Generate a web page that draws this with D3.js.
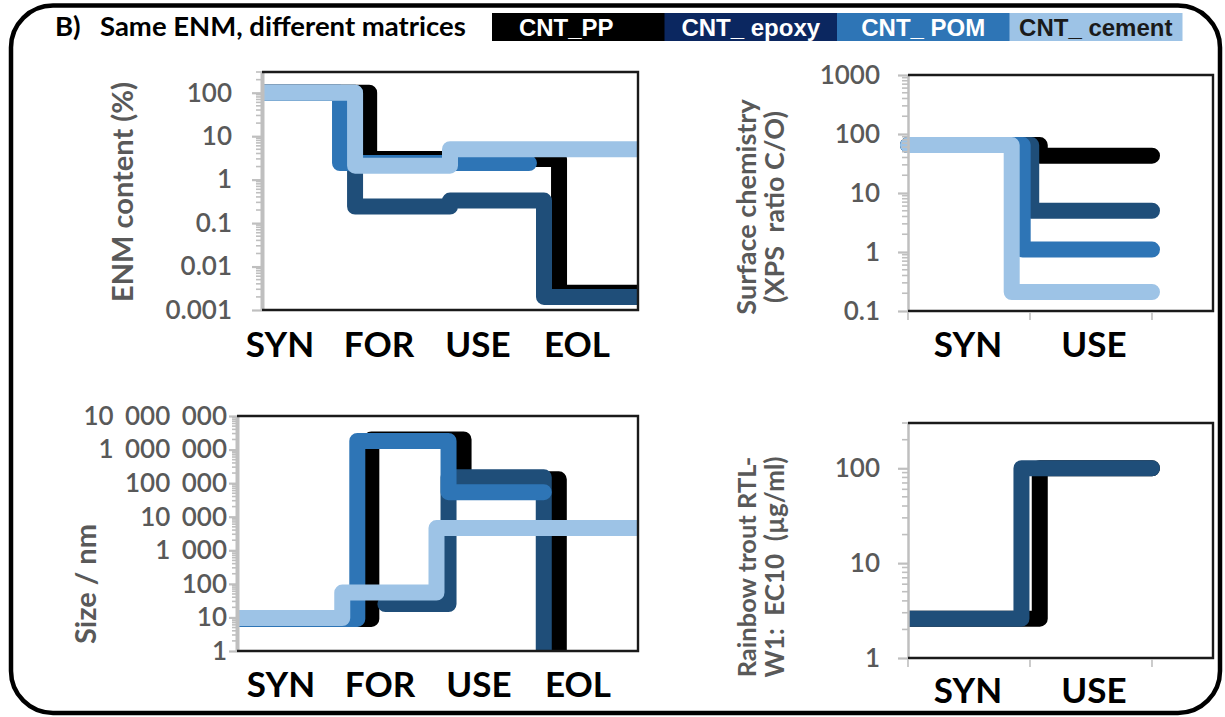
<!DOCTYPE html>
<html>
<head>
<meta charset="utf-8">
<script src="https://cdn.jsdelivr.net/npm/d3@7"></script>
<style>
  body { margin: 0; background: #fff; }
  svg { display: block; }
  text { font-family: Lato, "Open Sans", sans-serif; }
</style>
</head>
<body>
<svg id="fig" width="1225" height="717"></svg>
<script>
// ---- data ---------------------------------------------------------------
const stages4 = ["SYN", "FOR", "USE", "EOL"];
const stages2 = ["SYN", "USE"];
const seriesKeys = ["pp", "epoxy", "pom", "cement"];
const seriesNames = ["CNT_PP", "CNT_ epoxy", "CNT_ POM", "CNT_ cement"];
const lineColors = ["#000000", "#1F4E79", "#2E75B6", "#9DC3E6"];
const legendFills = ["#000000", "#0B2760", "#2E75B6", "#9DC3E6"];
const legendInk = ["#ffffff", "#ffffff", "#ffffff", "#1a1a1a"];

// Step series: position along the life cycle (stage units) where each level starts, and the level.
// ENM content (%)
const contentX = { pp: [0, 1.14, 3.16, 4.3], epoxy: [0, 0.99, 2.0, 3.0, 4.3], pom: [0, 0.83, 2.84], cement: [0, 0.99, 2.0, 4.3] };
const contentV = { pp: [100, 3, 0.0025, 0.0025], epoxy: [100, 0.24, 0.33, 0.002, 0.002], pom: [100, 2.4, 2.4], cement: [100, 2.1, 5, 5] };
const contentTicks = [0.001, 0.01, 0.1, 1, 10, 100];

// Surface chemistry (XPS ratio C/O)
const surfaceX = { pp: [0, 1.08, 2], epoxy: [0, 1.01, 2], pom: [0, 0.94, 2], cement: [0, 0.85, 2] };
const surfaceV = { pp: [65, 43, 43], epoxy: [65, 5, 5], pom: [65, 1.1, 1.1], cement: [65, 0.21, 0.21] };
const surfaceTicks = [0.1, 1, 10, 100, 1000];

// Size / nm
const sizeX = { pp: [0, 1.34, 2.26, 3.21, 4.3], epoxy: [1.48, 2.11, 3.06, 4.3], pom: [0, 1.2, 2.11, 3.06], cement: [0, 1.05, 1.99, 4.3] };
const sizeV = { pp: [9, 2e6, 1.3e5, 0.1, 0.1], epoxy: [25, 1.5e5, 0.1, 0.1], pom: [9, 1.8e6, 5.4e4, 5.4e4], cement: [9.6, 55, 4600, 4600] };
const sizeTicks = [1, 10, 100, 1e3, 1e4, 1e5, 1e6, 1e7];

// Rainbow trout RTL-W1 EC10 (µg/ml)
const ec10X = { pp: [0, 1.08, 2], epoxy: [0, 0.93, 2] };
const ec10V = { pp: [2.6, 100, 100], epoxy: [2.6, 100, 100] };
const ec10Ticks = [1, 10, 100];

// ---- drawing ------------------------------------------------------------
const svg = d3.select("#fig");
const grey = "#595959";
const axisGrey = "#BFBFBF";
const spaced = d3.formatLocale({ decimal: ".", thousands: " ", grouping: [3], currency: ["", ""] }).format(",");

// outer rounded frame
svg.append("rect")
  .attr("x", 11).attr("y", 5.5).attr("width", 1209).attr("height", 707.5)
  .attr("rx", 42).attr("ry", 42)
  .attr("fill", "none").attr("stroke", "#000").attr("stroke-width", 4.5);

// title
const title = svg.append("text").attr("x", 55).attr("y", 36)
  .attr("font-size", 27.5).attr("font-weight", 700).attr("fill", "#000");
title.append("tspan").text("B)");
title.append("tspan").attr("x", 100).text("Same ENM, different matrices");

// legend strip
const legX = d3.scaleBand().domain(seriesNames).range([492, 1182]).paddingInner(0);
const leg = svg.append("g");
leg.selectAll("rect").data(seriesNames).join("rect")
  .attr("x", d => legX(d)).attr("y", 13)
  .attr("width", legX.bandwidth() + 0.5).attr("height", 28)
  .attr("fill", (d, i) => legendFills[i]);
leg.selectAll("text").data(seriesNames).join("text")
  .attr("x", d => legX(d) + legX.bandwidth() / 2 - (d === "CNT_PP" ? 12 : 0))
  .attr("y", 36)
  .attr("text-anchor", "middle")
  .style("font-family", "'Liberation Sans Narrow', 'Arial Narrow', sans-serif")
  .style("white-space", "pre")
  .attr("font-size", 24).attr("font-weight", 700)
  .attr("fill", (d, i) => legendInk[i])
  .text(d => d);

function logMinor(domain) {
  const out = [];
  const lo = Math.floor(Math.log10(domain[0])), hi = Math.ceil(Math.log10(domain[1]));
  for (let e = lo; e <= hi; e++) {
    for (let m = 2; m <= 9; m++) {
      const v = m * Math.pow(10, e);
      if (v > domain[0] * 1.0001 && v <= domain[1] * 1.0001) out.push(v);
    }
  }
  return out;
}

function panel(cfg) {
  const g = svg.append("g");
  const x = d3.scaleLinear().domain(cfg.xDomain).range([cfg.left, cfg.right]);
  const y = d3.scaleLog().domain(cfg.yDomain).range([cfg.bottom, cfg.top]);
  const id = "clip" + cfg.name;

  g.append("clipPath").attr("id", id).append("rect")
    .attr("x", cfg.left - cfg.clipPad).attr("y", cfg.top)
    .attr("width", cfg.right - cfg.left + cfg.clipPad).attr("height", cfg.bottom - cfg.top);

  // step lines, drawn in legend order so lighter matrices sit on top
  const line = d3.line().x(d => x(d[0])).y(d => y(d[1])).curve(d3.curveStepAfter);
  const lines = g.append("g").attr("clip-path", `url(#${id})`);
  seriesKeys.forEach((k, i) => {
    if (!cfg.xs[k]) return;
    const pts = cfg.xs[k].map((xv, j) => [xv, cfg.vs[k][j]]);
    lines.append("path").attr("d", line(pts))
      .attr("fill", "none").attr("stroke", lineColors[i])
      .attr("stroke-width", 16).attr("stroke-linejoin", "round").attr("stroke-linecap", "round");
  });

  // y axis: gray with minor log ticks
  const minor = logMinor(cfg.yDomain);
  g.append("g").selectAll("line").data(minor).join("line")
    .attr("x1", cfg.left - cfg.minorLen).attr("x2", cfg.left)
    .attr("y1", d => y(d)).attr("y2", d => y(d))
    .attr("stroke", axisGrey).attr("stroke-width", 1.6);
  const yAxis = d3.axisLeft(y).tickValues(cfg.ticks).tickFormat(cfg.fmt)
    .tickSizeInner(cfg.majorLen).tickSizeOuter(0).tickPadding(cfg.labelGap);
  const ya = g.append("g").attr("transform", `translate(${cfg.left},0)`).call(yAxis);
  ya.select(".domain").attr("stroke", axisGrey).attr("stroke-width", cfg.axisW);
  ya.selectAll(".tick line").attr("stroke", axisGrey).attr("stroke-width", 2.2);
  ya.selectAll(".tick text").attr("fill", grey).attr("font-size", 26).attr("font-weight", 600)
    .style("font-family", "Lato, 'Open Sans', sans-serif").style("white-space", "pre")
    .style("word-spacing", cfg.wordGap || "0px");

  // plot frame (top, right, bottom)
  g.append("path")
    .attr("d", `M${cfg.left},${cfg.top}H${cfg.right}V${cfg.bottom}H${cfg.left}`)
    .attr("fill", "none").attr("stroke", "#1a1a1a").attr("stroke-width", 2.4);

  // category ticks under the two-stage panels
  if (cfg.catTicks) {
    g.append("g").selectAll("line").data(cfg.catTicks).join("line")
      .attr("x1", d => x(d)).attr("x2", d => x(d))
      .attr("y1", cfg.bottom + 1).attr("y2", cfg.bottom + 9)
      .attr("stroke", axisGrey).attr("stroke-width", 1.6);
  }

  // stage labels
  const cat = d3.scalePoint().domain(cfg.stages).range(cfg.catRange);
  g.append("g").selectAll("text").data(cfg.stages).join("text")
    .attr("x", d => cat(d)).attr("y", cfg.catY)
    .attr("text-anchor", "middle").attr("font-size", 35).attr("font-weight", 700)
    .attr("fill", "#000").text(d => d);

  // y title (one or two lines)
  cfg.yTitle.forEach((t, i) => {
    g.append("text")
      .attr("transform", `translate(${cfg.yTitleX[i]},${cfg.yTitleY}) rotate(-90)`)
      .attr("text-anchor", "middle").attr("dy", "0.35em")
      .attr("font-size", cfg.yTitleSize[i]).attr("font-weight", 700).attr("fill", grey)
      .style("white-space", "pre")
      .text(t);
  });
}

const plainFmt = d => String(d);

panel({
  name: "content", left: 262, right: 638, top: 72, bottom: 310,
  xDomain: [0, 4], yDomain: [0.001, 300], xs: contentX, vs: contentV,
  ticks: contentTicks, fmt: plainFmt, clipPad: 0, axisW: 4, majorLen: 10, minorLen: 6, labelGap: 20,
  stages: stages4, catRange: [280, 577], catY: 357,
  yTitle: ["ENM content (%)"], yTitleX: [123], yTitleY: 192, yTitleSize: [29]
});

panel({
  name: "surface", left: 908, right: 1213, top: 75, bottom: 311,
  xDomain: [0, 2.5], yDomain: [0.1, 1000], xs: surfaceX, vs: surfaceV,
  ticks: surfaceTicks, fmt: plainFmt, clipPad: 8, axisW: 2.5, majorLen: 10, minorLen: 6, labelGap: 18,
  stages: stages2, catRange: [968, 1094], catY: 357, catTicks: [0, 1, 2],
  yTitle: ["Surface chemistry", "(XPS  ratio C/O)"], yTitleX: [747, 775], yTitleY: 207, yTitleSize: [27, 27]
});

panel({
  name: "size", left: 237, right: 638, top: 416, bottom: 651,
  xDomain: [0, 4], yDomain: [1, 1e7], xs: sizeX, vs: sizeV,
  ticks: sizeTicks, fmt: d => spaced(d), clipPad: 0, axisW: 4, majorLen: 8, minorLen: 5, labelGap: 2,
  wordGap: "5px",
  stages: stages4, catRange: [281, 578], catY: 697,
  yTitle: ["Size / nm"], yTitleX: [86], yTitleY: 584, yTitleSize: [29]
});

panel({
  name: "ec10", left: 908, right: 1213, top: 423, bottom: 658,
  xDomain: [0, 2.5], yDomain: [1, 300], xs: ec10X, vs: ec10V,
  ticks: ec10Ticks, fmt: plainFmt, clipPad: 0, axisW: 2.5, majorLen: 10, minorLen: 6, labelGap: 18,
  stages: stages2, catRange: [968, 1094], catY: 703, catTicks: [0, 1, 2],
  yTitle: ["Rainbow trout RTL-", "W1:  EC10  (µg/ml)"], yTitleX: [747, 775], yTitleY: 567, yTitleSize: [25.5, 26]
});
</script>
</body>
</html>
